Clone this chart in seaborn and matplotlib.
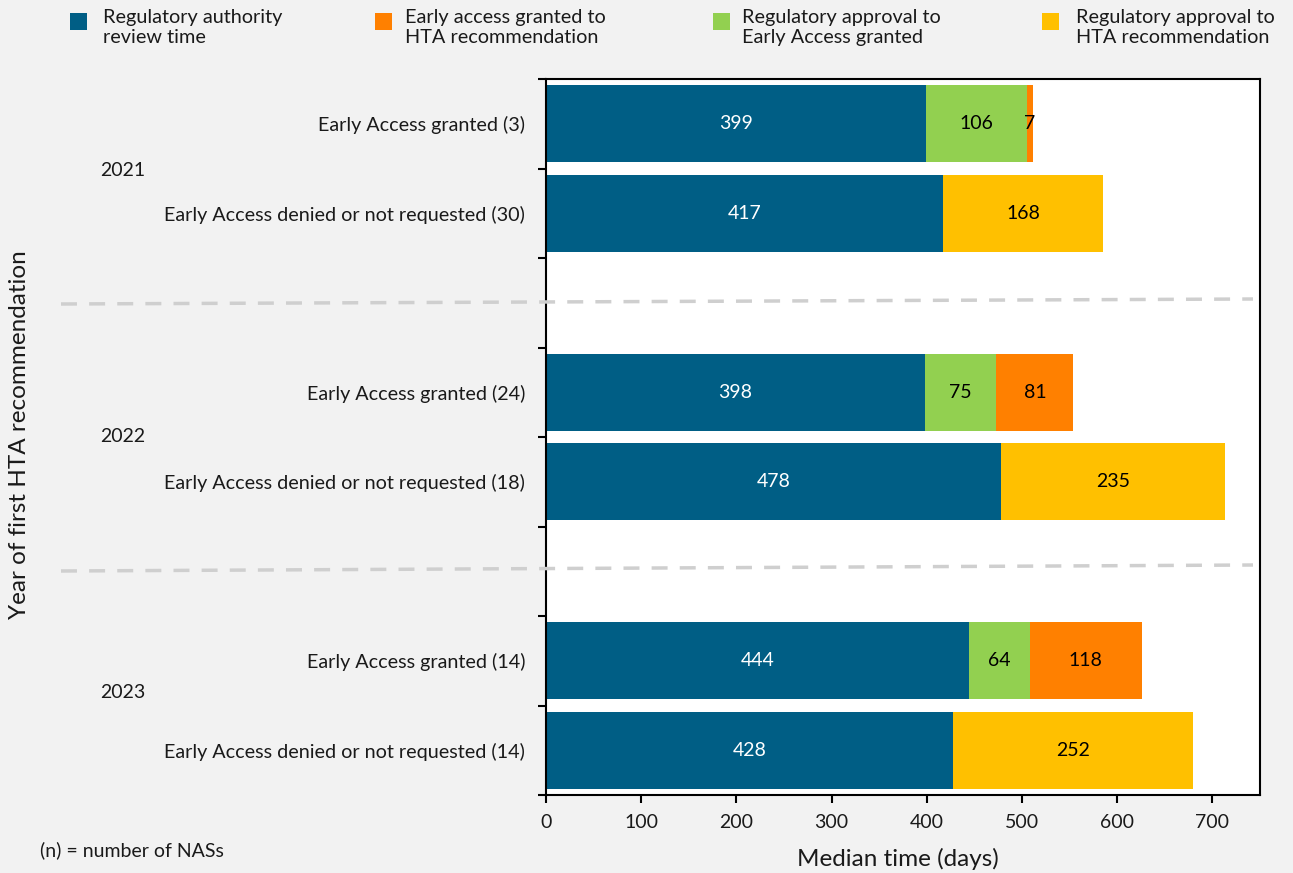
import numpy as np
import pandas as pd
import matplotlib
matplotlib.use("Agg")
import matplotlib.pyplot as plt
from matplotlib.lines import Line2D
from matplotlib.patches import Rectangle
from matplotlib.ticker import FixedLocator
import seaborn as sns

# ---- data -------------------------------------------------------------
categories = [
    "Early Access granted (3)",
    "Early Access denied or not requested (30)",
    " ",
    "Early Access granted (24)",
    "Early Access denied or not requested (18)",
    "  ",
    "Early Access granted (14)",
    "Early Access denied or not requested (14)",
]
years = ["2021", "2022", "2023"]

# segment values per row (0 where the segment does not apply)
review_time = [399, 417, 0, 398, 478, 0, 444, 428]      # regulatory authority review time
approval_to_ea = [106, 0, 0, 75, 0, 0, 64, 0]           # regulatory approval to early access granted
ea_to_hta = [7, 0, 0, 81, 0, 0, 118, 0]                 # early access granted to HTA recommendation
approval_to_hta = [0, 168, 0, 0, 235, 0, 0, 252]        # regulatory approval to HTA recommendation

series_names = [
    "Regulatory authority\nreview time",
    "Early access granted to\nHTA recommendation",
    "Regulatory approval to\nEarly Access granted",
    "Regulatory approval to\nHTA recommendation",
]

BLUE = "#005E85"
ORANGE = "#FF8000"
GREEN = "#92D050"
YELLOW = "#FFC000"
BG = "#F2F2F2"
TXT = "#1a1a1a"

FONT = "Lato"

# ---- figure -----------------------------------------------------------
sns.set_theme(style="white")
plt.rcParams["font.family"] = [FONT, "DejaVu Sans"]

W, H = 1293, 873
fig = plt.figure(figsize=(W / 100, H / 100), dpi=100, facecolor=BG)
ax = fig.add_axes([546 / W, 1 - 795 / H, (1260 - 546) / W, (795 - 79) / H])
ax.set_facecolor("white")

df = pd.DataFrame({
    "category": categories,
    "review": review_time,
    "to_ea": approval_to_ea,
    "ea_hta": ea_to_hta,
    "appr_hta": approval_to_hta,
})
# cumulative right edges of each stacked segment
c1 = df["review"].to_numpy(dtype=float)
c2 = c1 + df["to_ea"].to_numpy()
c3 = c2 + df["ea_hta"].to_numpy()
c4 = c3 + df["appr_hta"].to_numpy()
df["c1"], df["c2"], df["c3"], df["c4"] = c1, c2, c3, c4

bar_w = 0.86
for col, color in [("c4", YELLOW), ("c3", ORANGE), ("c2", GREEN), ("c1", BLUE)]:
    sns.barplot(data=df, x=col, y="category", order=categories, orient="h",
                color=color, saturation=1, width=bar_w, errorbar=None,
                linewidth=0, ax=ax)

# value labels centred in each segment
label_size = 14
for i in range(len(categories)):
    segs = [
        (0, c1[i], review_time[i], "white"),
        (c1[i], c2[i], approval_to_ea[i], "black"),
        (c2[i], c3[i], ea_to_hta[i], "black"),
        (c3[i], c4[i], approval_to_hta[i], "black"),
    ]
    for lo, hi, v, tc in segs:
        if v > 0:
            ax.text((lo + hi) / 2, i, f"{v:g}", ha="center", va="center",
                    color=tc, fontsize=label_size)

# axes styling
ax.set_xlim(0, 750)
ax.set_ylim(len(categories) - 0.5, -0.5)
ax.set_xticks(np.arange(0, 701, 100))
ax.tick_params(axis="x", which="major", direction="out", length=6, width=1.5,
               color="black", labelsize=14, pad=8, bottom=True)
ax.tick_params(axis="y", which="major", length=0, labelsize=14.2, pad=15)
ax.yaxis.set_minor_locator(FixedLocator(np.arange(-0.5, len(categories), 1.0)))
ax.tick_params(axis="y", which="minor", direction="out", length=6, width=1.5,
               color="black", left=True)
ax.set_yticks(range(len(categories)))
ax.set_yticklabels(categories)
for lab in ax.get_xticklabels() + ax.get_yticklabels():
    lab.set_color(TXT)
for sp in ax.spines.values():
    sp.set_visible(True)
    sp.set_color("black")
    sp.set_linewidth(1.5)
ax.set_xlabel("")
ax.set_ylabel("")
fig.text((546 + 1260) / 2 / W - 0.004, 1 - 859 / H, "Median time (days)",
         ha="center", va="center", fontsize=17.5, color=TXT)

# year group labels
for yr, ypix in zip(years, [170, 436, 693]):
    fig.text(100 / W, 1 - ypix / H, yr, ha="left", va="center", fontsize=14,
             color=TXT)

fig.text(20 / W, 1 - 435 / H, "Year of first HTA recommendation", rotation=90,
         ha="center", va="center", fontsize=17.5, color=TXT)
fig.text(40 / W, 1 - 850 / H, "(n) = number of NASs", ha="left", va="center",
         fontsize=14, color=TXT)

# dashed separators between years
for (x0, y0, x1, y1) in [(61, 304, 1253, 299), (61, 571, 1253, 565)]:
    ln = Line2D([x0 / W, x1 / W], [1 - y0 / H, 1 - y1 / H], transform=fig.transFigure,
                color="#CFCFCF", linewidth=2.5, linestyle=(0, (4.6, 3.5)),
                clip_on=False, zorder=10)
    fig.add_artist(ln)

# legend
legend_items = [
    (70, 103, BLUE, series_names[0]),
    (375, 405, ORANGE, series_names[1]),
    (713, 742, GREEN, series_names[2]),
    (1042, 1076, YELLOW, series_names[3]),
]
sq = 17
for sx, tx, color, name in legend_items:
    fig.add_artist(Rectangle((sx / W, 1 - (13 + sq) / H), sq / W, sq / H,
                             transform=fig.transFigure, facecolor=color,
                             edgecolor="none"))
    fig.text(tx / W, 1 - 9 / H, name, ha="left", va="top", fontsize=14.3,
             linespacing=1.2, color=TXT)

fig.savefig("out.png", dpi=100, facecolor=BG)
